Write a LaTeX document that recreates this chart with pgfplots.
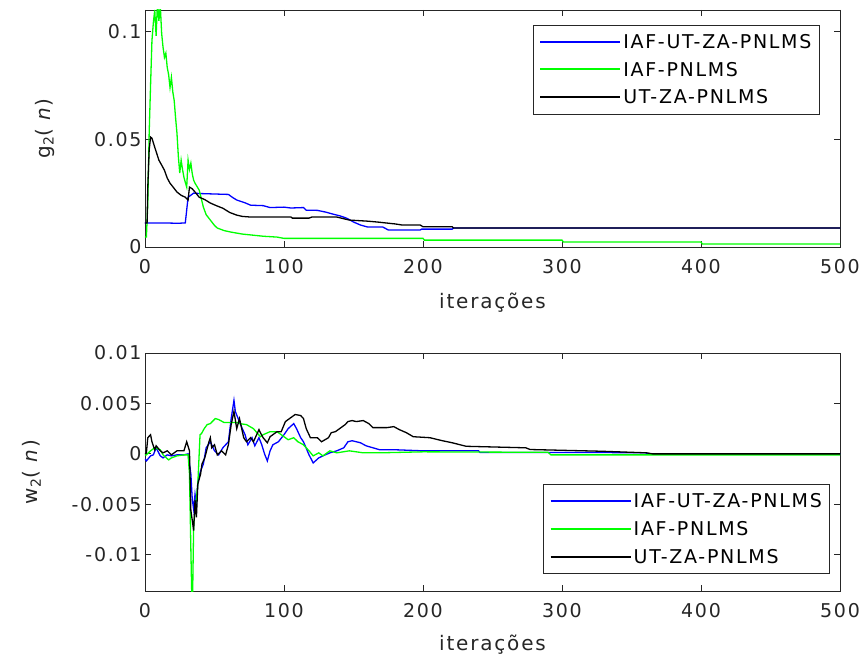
\documentclass[border=0pt]{standalone}
\usepackage{fontspec}
\setmainfont{DejaVu Sans}[LetterSpace=9]
\usepackage{pgfplots}
\pgfplotsset{compat=1.18}
\definecolor{axgray}{gray}{0.15}
\definecolor{mblue}{rgb}{0,0,1}
\definecolor{mgreen}{rgb}{0,1,0}
\pgfplotsset{
  myaxis/.style={
    scale only axis, width=695pt,
    xmin=0, xmax=500,
    xtick={0,100,200,300,400,500},
    xticklabels={0,100,200,300,400,500},
    scaled y ticks=false, scaled x ticks=false,
    tick align=inside, major tick length=6pt,
    axis line style={axgray, line width=0.9pt},
    every tick/.style={axgray, line width=0.9pt},
    tick label style={font=\fontsize{19}{22}\selectfont, text=axgray},
    xticklabel style={yshift=-9pt},
    label style={font=\fontsize{20}{24}\selectfont, text=axgray},
    xlabel={iterações},
    legend cell align=left,
    legend image code/.code={\draw[#1,line width=2pt] (0pt,0.3pt) -- (80pt,0.3pt);},
    legend style={font=\fontsize{19}{22}\selectfont, draw=axgray, line width=0.9pt,
      fill=white, row sep=8pt, inner xsep=6pt, inner ysep=7pt},
    every axis plot/.append style={line width=1.3pt},
  }
}
\begin{document}
\begin{tikzpicture}
\path[use as bounding box] (-145pt,-68pt) rectangle (722pt,591pt);
% ---------------- top axis ----------------
\begin{axis}[myaxis, at={(0pt,344pt)}, anchor=south west, height=237pt,
  ymin=0, ymax=0.11, ytick={0,0.05,0.1}, yticklabels={0,0.05,0.1},
  xlabel style={at={(axis description cs:0.5,0)}, anchor=center, yshift=-56pt},
  ylabel={g\textsubscript{2}( \textit{n})},
  ylabel style={at={(axis description cs:-0.144,0.5)}, anchor=center, rotate=0},
  legend style={at={(0.971,0.937)}, anchor=north east}]
\addplot[mblue] coordinates {(0,0.0111)(18,0.0111)(24,0.0110)(29,0.0112)(31,0.0231)(35,0.0250)(40,0.0248)(50,0.0246)(60,0.0244)(63,0.0230)(66,0.0218)(72,0.0205)(76,0.0194)(85,0.0192)(90,0.0183)(100,0.0185)(105,0.0181)(114,0.0183)(116,0.0171)(124,0.0170)(130,0.0162)(135,0.0153)(140,0.0145)(145,0.0134)(150,0.0116)(155,0.0102)(160,0.0093)(171,0.0093)(175,0.0079)(198,0.0079)(199,0.0083)(221,0.0083)(222,0.0088)(500,0.0088)};
\addlegendentry{IAF-UT-ZA-PNLMS}
\addplot[mgreen] coordinates {(0,0.0046)(1,0.0046)(2,0.02)(3,0.0528)(4,0.075)(5,0.0958)(6,0.104)(7,0.11)(8,0.098)(9,0.114)(10,0.105)(11,0.112)(12,0.099)(13,0.0926)(14,0.088)(15,0.090)(16,0.0833)(17,0.080)(18,0.074)(19,0.0787)(20,0.072)(21,0.068)(22,0.060)(23,0.0528)(24,0.042)(25,0.0343)(26,0.0403)(27,0.036)(28,0.0324)(29,0.030)(30,0.0278)(31,0.0403)(32,0.036)(33,0.0389)(34,0.034)(35,0.031)(36,0.0296)(39,0.0264)(42,0.0185)(44,0.015)(47,0.0125)(50,0.010)(52,0.0088)(57,0.0076)(62,0.0069)(70,0.006)(76,0.0056)(85,0.0050)(95,0.0046)(100,0.0040)(200,0.0040)(201,0.0032)(300,0.0032)(301,0.0023)(400,0.0023)(401,0.0014)(500,0.0014)};
\addlegendentry{IAF-PNLMS}
\addplot[black] coordinates {(0,0.0111)(1.5,0.0111)(2,0.0278)(3,0.045)(4,0.051)(5,0.0505)(7,0.0463)(10,0.0403)(12,0.038)(14,0.0356)(16,0.032)(18,0.0296)(20,0.028)(23,0.0255)(26,0.024)(29,0.0231)(31,0.0218)(32,0.0278)(34,0.027)(36,0.0255)(39,0.0231)(43,0.022)(47,0.0204)(52,0.019)(56,0.018)(61,0.016)(66,0.0148)(70,0.0142)(76,0.0139)(105,0.0139)(106,0.0134)(118,0.0134)(120,0.0139)(138,0.0139)(147,0.0125)(160,0.0120)(167,0.0116)(180,0.0107)(185,0.0102)(198,0.0102)(200,0.0094)(221,0.0094)(222,0.0088)(500,0.0088)};
\addlegendentry{UT-ZA-PNLMS}
\end{axis}
% ---------------- bottom axis ----------------
\begin{axis}[myaxis, at={(0pt,0pt)}, anchor=south west, height=238pt,
  ymin=-0.0136, ymax=0.01, ytick={-0.01,-0.005,0,0.005,0.01},
  yticklabels={-0.01,-0.005,0,0.005,0.01},
  xlabel style={at={(axis description cs:0.5,0)}, anchor=center, yshift=-54pt},
  ylabel={w\textsubscript{2}( \textit{n})},
  ylabel style={at={(axis description cs:-0.163,0.5)}, anchor=center, rotate=0},
  legend style={at={(0.986,0.071)}, anchor=south east}]
\addplot[mblue] coordinates {(0,-0.0005)(1,-0.0007)(4,-0.0002)(6,-0.0001)(8,0.0006)(11,-0.0002)(13,-0.0004)(16,-0.0001)(19,-0.0002)(23,-0.0001)(28,-0.0001)(31,0)(33,-0.002)(34,-0.0045)(35,-0.0055)(36,-0.004)(37,-0.005)(38,-0.0028)(40,-0.0017)(42,-0.001)(44,0.0006)(47,0.0012)(50,0.0003)(53,-0.0001)(56,0.0006)(60,0.0012)(62,0.0035)(64,0.0053)(65,0.0042)(67,0.0035)(70,0.0025)(72,0.0019)(74,0.0009)(77,0.0016)(79,0.0008)(82,0.0016)(84,0.0009)(86,0.0)(88,-0.0007)(90,0.0003)(92,0.0009)(96,0.0012)(100,0.0019)(103,0.0025)(107,0.003)(109,0.0025)(112,0.0016)(114,0.0012)(118,-0.0001)(121,-0.0009)(125,-0.0004)(128,-0.0002)(133,0.0001)(138,0.0003)(143,0.0006)(146,0.0012)(149,0.0013)(155,0.0011)(159,0.0008)(169,0.0004)(181,0.0004)(200,0.0003)(240,0.0003)(241,0.00013)(330,0.00013)(360,0.0001)(362,0)(500,0)};
\addlegendentry{IAF-UT-ZA-PNLMS}
\addplot[mgreen] coordinates {(0,-0.0001)(1,-0.0001)(4,0.0003)(7,0.0006)(11,0.0004)(13,-0.0001)(17,-0.0006)(19,-0.0004)(23,-0.0002)(28,-0.0001)(31,-0.0001)(32,-0.002)(33,-0.0095)(34,-0.0165)(35,-0.0072)(36,-0.0056)(38,-0.003)(39.6,0.0019)(40.6,0.002)(42.6,0.0025)(44.7,0.0029)(47,0.003)(50.6,0.0035)(53,0.0034)(57,0.0031)(67,0.0031)(68,0.003)(73,0.0029)(78,0.0025)(83,0.0017)(85,0.0019)(90,0.0022)(95,0.0022)(100,0.0017)(103,0.0014)(107,0.0016)(110,0.0012)(114,0.0009)(118,0.0003)(121,-0.0002)(125,0.0001)(128,-0.0002)(133,0.0003)(138,0.0001)(147,0.0003)(157,0.0001)(169,0.0001)(200,0.0002)(290,0.00015)(292,-0.0001)(500,-0.0001)};
\addlegendentry{IAF-PNLMS}
\addplot[black] coordinates {(0,0)(1,0.0001)(2,0.0016)(4,0.0019)(5,0.0012)(7,0.0004)(8,0.0008)(11,0.0003)(13,0.0001)(16,0.0003)(19,-0.0001)(23,0.0003)(28,0.0003)(30,0.0012)(32,0.0003)(33,-0.0056)(34,-0.0066)(35,-0.0076)(36,-0.0046)(37,-0.0063)(38,-0.003)(40,-0.002)(41,-0.001)(43,-0.0004)(46,0.0012)(47,0.0016)(48,0.0006)(50,0.0009)(52,-0.0001)(55,0.0003)(58,-0.0001)(60,0.0009)(62,0.0029)(64,0.0042)(66,0.0025)(68,0.0035)(71,0.0016)(73,0.0012)(76,0.0016)(78,0.0012)(82,0.0024)(83,0.0021)(85,0.0016)(88,0.0011)(90,0.0017)(95,0.0022)(98,0.0022)(101,0.0032)(104,0.0035)(108,0.0039)(112,0.0038)(114,0.0035)(116,0.0025)(119,0.0016)(124,0.0016)(127,0.0012)(132,0.0016)(134,0.0021)(137,0.0022)(139,0.0024)(144,0.0029)(146,0.0032)(149,0.0033)(152,0.0032)(157,0.0033)(161,0.003)(164,0.0026)(174,0.0026)(179,0.0027)(183,0.0024)(188,0.0021)(193,0.0017)(205,0.0016)(214,0.0013)(221,0.0011)(231,0.00075)(274,0.0006)(277,0.00043)(328,0.00026)(361,0.0001)(365,0)(500,0)};
\addlegendentry{UT-ZA-PNLMS}
\end{axis}
\end{tikzpicture}
\end{document}
